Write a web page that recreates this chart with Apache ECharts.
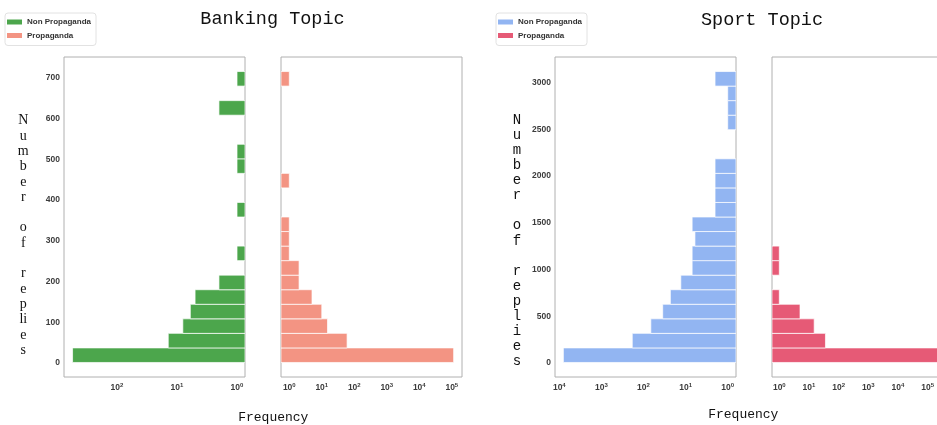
<!DOCTYPE html>
<html>
<head>
<meta charset="utf-8">
<script src="https://cdn.jsdelivr.net/npm/echarts@6/dist/echarts.min.js"></script>
<style>
  html, body { margin: 0; padding: 0; background: #ffffff; }
  #chart { width: 937px; height: 425px; }
</style>
</head>
<body>
<div id="chart"></div>
<script>
// Reply-count histograms (20 equal bins per topic), frequency on log scale.
const seriesNames = ['Non Propaganda', 'Propaganda'];

const bankingBinRange = [1, 716];
const bankingNonPropaganda = [550, 14, 8, 6, 5, 2, 0, 1, 0, 0, 1, 0, 0, 1, 1, 0, 0, 2, 0, 1];
const bankingPropaganda = [114000, 60, 15, 10, 5, 2, 2, 1, 1, 1, 0, 0, 1, 0, 0, 0, 0, 0, 0, 1];

const sportBinRange = [5, 3120];
const sportNonPropaganda = [8000, 185, 67, 35, 23, 13, 7, 7, 6, 7, 2, 2, 2, 2, 0, 0, 1, 1, 1, 2];
const sportPropaganda = [250000, 36, 15, 5, 1, 0, 1, 1, 0, 0, 0, 0, 0, 0, 0, 0, 0, 0, 0, 0];

const bankingReplyTicks = [0, 100, 200, 300, 400, 500, 600, 700];
const sportReplyTicks = [0, 500, 1000, 1500, 2000, 2500, 3000];

const colors = {
  bankingNon: '#4ca64c',
  bankingProp: '#f39483',
  sportNon: '#92b5f2',
  sportProp: '#e65a76'
};

// Log-axis extents (exponents) for each panel
const xExtents = [
  [-0.133, 2.883],
  [-0.255, 5.314],
  [-0.197, 4.102],
  [-0.246, 5.856]
];

function toBins(range, counts) {
  const width = (range[1] - range[0]) / counts.length;
  const out = [];
  counts.forEach((c, i) => {
    if (c > 0) out.push([range[0] + i * width, range[0] + (i + 1) * width, c]);
  });
  return out;
}

function histogramSeries(name, color, idx, range, counts) {
  const base = Math.pow(10, xExtents[idx][0]);
  return {
    type: 'custom',
    name: name,
    xAxisIndex: idx,
    yAxisIndex: idx,
    itemStyle: { color: color },
    encode: { x: 2, y: [0, 1] },
    clip: true,
    data: toBins(range, counts),
    renderItem: function (params, api) {
      const p0 = api.coord([base, api.value(0)]);
      const p1 = api.coord([api.value(2), api.value(1)]);
      return {
        type: 'rect',
        shape: {
          x: Math.min(p0[0], p1[0]),
          y: p1[1],
          width: Math.abs(p1[0] - p0[0]),
          height: p0[1] - p1[1]
        },
        style: { fill: color, stroke: '#ffffff', lineWidth: 0.7 }
      };
    }
  };
}

function logLabel(v) {
  const e = Math.round(Math.log10(v));
  return '{b|10}{e|' + e + '}';
}

const tickFont = { fontFamily: 'Liberation Sans', fontWeight: 'bold', color: '#3c3c3c' };

const gridBox = {
  show: true, borderColor: '#b0b0b0', borderWidth: 1,
  backgroundColor: 'transparent', outerBoundsMode: 'none', containLabel: false
};
const grids = [
  Object.assign({ left: 64, top: 57, width: 181, height: 320 }, gridBox),
  Object.assign({ left: 281, top: 57, width: 181, height: 320 }, gridBox),
  Object.assign({ left: 555, top: 57, width: 181, height: 320 }, gridBox),
  Object.assign({ left: 772, top: 57, width: 181, height: 320 }, gridBox)
];

const xAxes = xExtents.map((ext, i) => ({
  type: 'log',
  logBase: 10,
  gridIndex: i,
  inverse: i === 0 || i === 2,
  min: Math.pow(10, ext[0]),
  max: Math.pow(10, ext[1]),
  axisLine: { show: false },
  axisTick: { show: false },
  splitLine: { show: false },
  axisLabel: {
    showMinLabel: false,
    showMaxLabel: false,
    margin: 5,
    formatter: logLabel,
    rich: {
      b: Object.assign({ fontSize: 8.5, lineHeight: 11 }, tickFont),
      e: Object.assign({ fontSize: 6, lineHeight: 11, verticalAlign: 'top' }, tickFont)
    }
  }
}));

const yRanges = [
  [-34.75, 751.75], [-34.75, 751.75],
  [-150.75, 3275.75], [-150.75, 3275.75]
];
const yAxes = yRanges.map((r, i) => ({
  type: 'value',
  gridIndex: i,
  min: r[0],
  max: r[1],
  axisLine: { show: false },
  axisTick: { show: false },
  splitLine: { show: false },
  axisLabel: Object.assign({
    show: i === 0 || i === 2,
    customValues: i < 2 ? bankingReplyTicks : sportReplyTicks,
    formatter: v => String(v),
    fontSize: 8.5,
    margin: 4
  }, tickFont)
}));

const legendBase = {
  orient: 'vertical',
  icon: 'rect',
  itemWidth: 15,
  itemHeight: 5,
  itemGap: 3.5,
  padding: [4, 5, 5, 2],
  borderColor: '#e2e2e2',
  borderWidth: 1,
  borderRadius: 3,
  backgroundColor: '#ffffff',
  selectedMode: false,
  textStyle: { fontFamily: 'Liberation Sans', fontWeight: 'bold', fontSize: 8, lineHeight: 10, color: '#333333' }
};

const bankingAxisTitle = ['N', 'u', 'm', 'b', 'e', 'r', '', 'o', 'f', '', 'r', 'e', 'p', 'li', 'e', 's'].join('\n');
const sportAxisTitle = ['N', 'u', 'm', 'b', 'e', 'r', '', 'o', 'f', '', 'r', 'e', 'p', 'l', 'i', 'e', 's'].join('\n');

const chart = echarts.init(document.getElementById('chart'), null, { renderer: 'canvas' });
chart.setOption({
  animation: false,
  backgroundColor: '#ffffff',
  grid: grids,
  xAxis: xAxes,
  yAxis: yAxes,
  legend: [
    Object.assign({
      left: 5, top: 13,
      data: [
        { name: seriesNames[0], itemStyle: { color: colors.bankingNon } },
        { name: seriesNames[1], itemStyle: { color: colors.bankingProp } }
      ]
    }, legendBase),
    Object.assign({
      left: 496, top: 13,
      data: [
        { name: seriesNames[0], itemStyle: { color: colors.sportNon } },
        { name: seriesNames[1], itemStyle: { color: colors.sportProp } }
      ]
    }, legendBase)
  ],
  graphic: [
    { type: 'text', x: 272.5, y: 19.5, style: { text: 'Banking Topic', font: '18.5px "Liberation Mono"', fill: '#111111', textAlign: 'center', textVerticalAlign: 'middle' } },
    { type: 'text', x: 762, y: 20.5, style: { text: 'Sport Topic', font: '18.5px "Liberation Mono"', fill: '#111111', textAlign: 'center', textVerticalAlign: 'middle' } },
    { type: 'text', x: 273.3, y: 417.5, style: { text: 'Frequency', font: '13px "Liberation Mono"', fill: '#111111', textAlign: 'center', textVerticalAlign: 'middle' } },
    { type: 'text', x: 743.3, y: 414.5, style: { text: 'Frequency', font: '13px "Liberation Mono"', fill: '#111111', textAlign: 'center', textVerticalAlign: 'middle' } },
    { type: 'text', x: 23.3, y: 113, style: { text: bankingAxisTitle, font: '14px "Liberation Serif"', lineHeight: 15.3, fill: '#111111', textAlign: 'center', textVerticalAlign: 'top' } },
    { type: 'text', x: 517, y: 112.5, style: { text: sportAxisTitle, font: '14px "Liberation Mono"', lineHeight: 15.1, fill: '#111111', textAlign: 'center', textVerticalAlign: 'top' } }
  ],
  series: [
    histogramSeries(seriesNames[0], colors.bankingNon, 0, bankingBinRange, bankingNonPropaganda),
    histogramSeries(seriesNames[1], colors.bankingProp, 1, bankingBinRange, bankingPropaganda),
    histogramSeries(seriesNames[0], colors.sportNon, 2, sportBinRange, sportNonPropaganda),
    histogramSeries(seriesNames[1], colors.sportProp, 3, sportBinRange, sportPropaganda)
  ]
});
</script>
</body>
</html>
